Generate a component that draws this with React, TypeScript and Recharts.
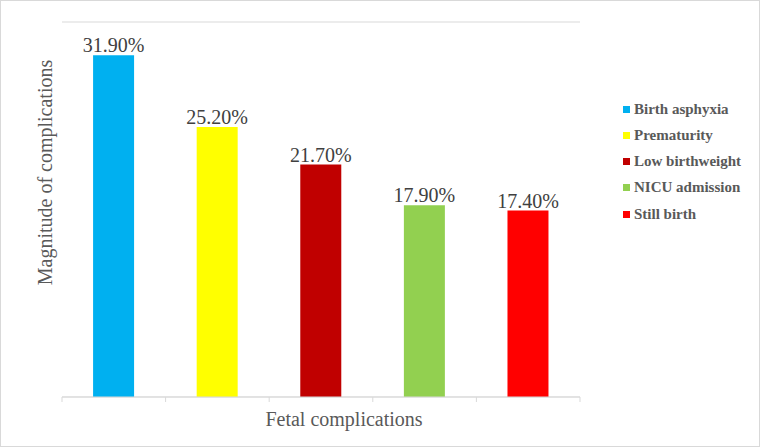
import React from "react";
import {
  BarChart, Bar, XAxis, YAxis, CartesianGrid, Legend, LabelList, Cell,
} from "recharts";

const categories = ["Birth asphyxia", "Prematurity", "Low birthweight", "NICU admission", "Still birth"];
const values = [31.9, 25.2, 21.7, 17.9, 17.4];
const colors = ["#00b0f0", "#ffff00", "#c00000", "#92d050", "#ff0000"];
const yTicks = [0, 5, 10, 15, 20, 25, 30, 35];
const edgeTicks = [0, 1, 2, 3, 4, 5];

const serif = '"Liberation Serif", "Times New Roman", serif';

const data = categories.map((name, i) => ({ name, value: values[i] }));

function LegendBox() {
  return (
    <div style={{ fontFamily: serif, fontWeight: "bold", fontSize: 15, color: "#595959" }}>
      {categories.map((c, i) => (
        <div key={c} style={{ height: 26.25, display: "flex", alignItems: "center" }}>
          <span style={{ width: 7, height: 7, background: colors[i], marginRight: 4, display: "inline-block" }} />
          <span style={{ fontFamily: serif }}>{c}</span>
        </div>
      ))}
    </div>
  );
}

export default function App() {
  return (
    <div
      style={{
        position: "absolute", left: 0, top: 0, width: 760, height: 447,
        border: "1px solid #d9d9d9", boxSizing: "border-box", background: "#fff",
      }}
    >
      <div style={{ position: "absolute", left: -1, top: -1 }}>
        <BarChart
          width={761}
          height={448}
          data={data}
          margin={{ top: 22, right: 41, left: 0, bottom: 21 }}
          barCategoryGap="30%"
        >
          <CartesianGrid vertical={false} stroke="#d9d9d9" />
          <XAxis xAxisId="cat" dataKey="name" hide height={0} />
          <XAxis
            xAxisId="edges"
            type="number"
            dataKey="value"
            domain={[0, 5]}
            allowDataOverflow
            ticks={edgeTicks}
            tickFormatter={() => ""}
            tickSize={5}
            stroke="#d9d9d9"
            height={30}
            label={{
              content: ({ viewBox }: any) => (
                <text
                  x={viewBox.x + viewBox.width / 2 + 23}
                  y={viewBox.y + 29}
                  textAnchor="middle"
                  fontFamily={serif}
                  fontSize={20}
                  fill="#595959"
                >
                  Fetal complications
                </text>
              ),
            }}
          />
          <YAxis
            domain={[0, 35]}
            ticks={yTicks}
            tick={false}
            tickLine={false}
            axisLine={false}
            width={62}
            label={{
              content: ({ viewBox }: any) => {
                const x = viewBox.x + viewBox.width - 10;
                const y = viewBox.y + viewBox.height / 2 - 37;
                return (
                  <text
                    x={x}
                    y={y}
                    transform={`rotate(-90 ${x} ${y})`}
                    textAnchor="middle"
                    fontFamily={serif}
                    fontSize={20}
                    fill="#595959"
                  >
                    Magnitude of complications
                  </text>
                );
              },
            }}
          />
          <Legend
            layout="horizontal"
            verticalAlign="middle"
            align="right"
            wrapperStyle={{ left: 623, top: 96, right: "auto", width: 140 }}
            content={() => <LegendBox />}
          />
          <Bar xAxisId="cat" dataKey="value" isAnimationActive={false}>
            {data.map((d, i) => (
              <Cell key={d.name} fill={colors[i]} />
            ))}
            <LabelList
              dataKey="value"
              position="top"
              offset={3}
              formatter={(v: any) => `${Number(v).toFixed(2)}%`}
              style={{ fontFamily: serif, fontSize: 20, fill: "#404040" }}
            />
          </Bar>
        </BarChart>
      </div>
    </div>
  );
}
